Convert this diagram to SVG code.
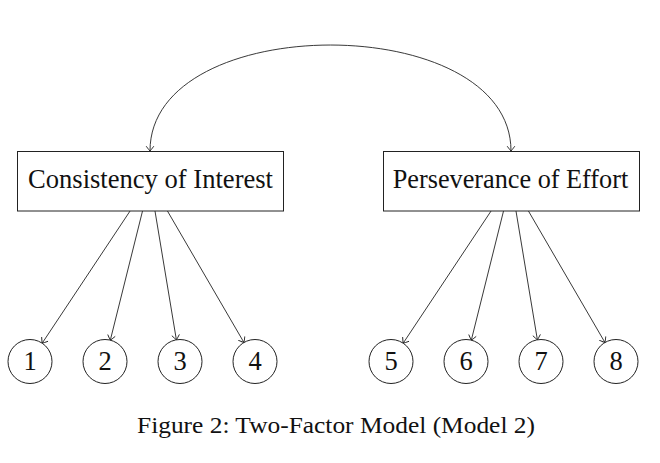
<svg xmlns="http://www.w3.org/2000/svg" width="660" height="463" viewBox="0 0 660 463">
<defs>
<style>
.box{fill:#fff;stroke:#222;stroke-width:1}
.lat{fill:#fff;stroke:#222;stroke-width:1}
.edge{fill:none;stroke:#222;stroke-width:0.9}
.lbl{font-family:"Liberation Serif","DejaVu Serif",serif;font-size:26.5px;fill:#111;text-anchor:middle}
.cap{font-family:"Liberation Serif","DejaVu Serif",serif;font-size:24px;fill:#111;text-anchor:middle}
</style>
<marker id="to" viewBox="-6 -5 7 10" refX="0" refY="0" markerWidth="7" markerHeight="10" markerUnits="userSpaceOnUse" orient="auto-start-reverse">
<path d="M-4.5,-3.6 Q-1,-1 0,0 Q-1,1 -4.5,3.6" fill="none" stroke="#222" stroke-width="0.9" stroke-linecap="round"/>
</marker>
</defs>
<rect width="660" height="463" fill="#fff"/>
<g id="connectors">
<path class="edge" d="M150,151 C150,9.7 511,9.7 511,151" marker-start="url(#to)" marker-end="url(#to)"/>
<line class="edge" x1="130.06" y1="211" x2="42.18" y2="343.18" marker-end="url(#to)"/>
<line class="edge" x1="142.52" y1="211" x2="110.32" y2="340.15" marker-end="url(#to)"/>
<line class="edge" x1="154.99" y1="211" x2="176.39" y2="339.8" marker-end="url(#to)"/>
<line class="edge" x1="167.45" y1="211" x2="243.94" y2="342.48" marker-end="url(#to)"/>
<line class="edge" x1="491.06" y1="211" x2="403.18" y2="343.18" marker-end="url(#to)"/>
<line class="edge" x1="503.52" y1="211" x2="471.32" y2="340.15" marker-end="url(#to)"/>
<line class="edge" x1="515.99" y1="211" x2="537.39" y2="339.8" marker-end="url(#to)"/>
<line class="edge" x1="528.45" y1="211" x2="604.94" y2="342.48" marker-end="url(#to)"/>
</g>
<g id="consistency">
<rect class="box" x="17.5" y="151.5" width="266" height="59.5"/>
<text class="lbl" x="150.5" y="188" textLength="245" lengthAdjust="spacingAndGlyphs">Consistency of Interest</text>
</g>
<g id="perseverance">
<rect class="box" x="383.5" y="151.5" width="256" height="59.5"/>
<text class="lbl" x="510.5" y="188" textLength="235.5" lengthAdjust="spacingAndGlyphs">Perseverance of Effort</text>
</g>
<g id="item1"><circle class="lat" cx="30" cy="361.5" r="22"/><text class="lbl" x="30" y="370">1</text></g>
<g id="item2"><circle class="lat" cx="105" cy="361.5" r="22"/><text class="lbl" x="105" y="370">2</text></g>
<g id="item3"><circle class="lat" cx="180" cy="361.5" r="22"/><text class="lbl" x="180" y="370">3</text></g>
<g id="item4"><circle class="lat" cx="255" cy="361.5" r="22"/><text class="lbl" x="255" y="370">4</text></g>
<g id="item5"><circle class="lat" cx="391" cy="361.5" r="22"/><text class="lbl" x="391" y="370">5</text></g>
<g id="item6"><circle class="lat" cx="466" cy="361.5" r="22"/><text class="lbl" x="466" y="370">6</text></g>
<g id="item7"><circle class="lat" cx="541" cy="361.5" r="22"/><text class="lbl" x="541" y="370">7</text></g>
<g id="item8"><circle class="lat" cx="616" cy="361.5" r="22"/><text class="lbl" x="616" y="370">8</text></g>
<text class="cap" x="336" y="433" textLength="398" lengthAdjust="spacingAndGlyphs">Figure 2: Two-Factor Model (Model 2)</text>
</svg>
